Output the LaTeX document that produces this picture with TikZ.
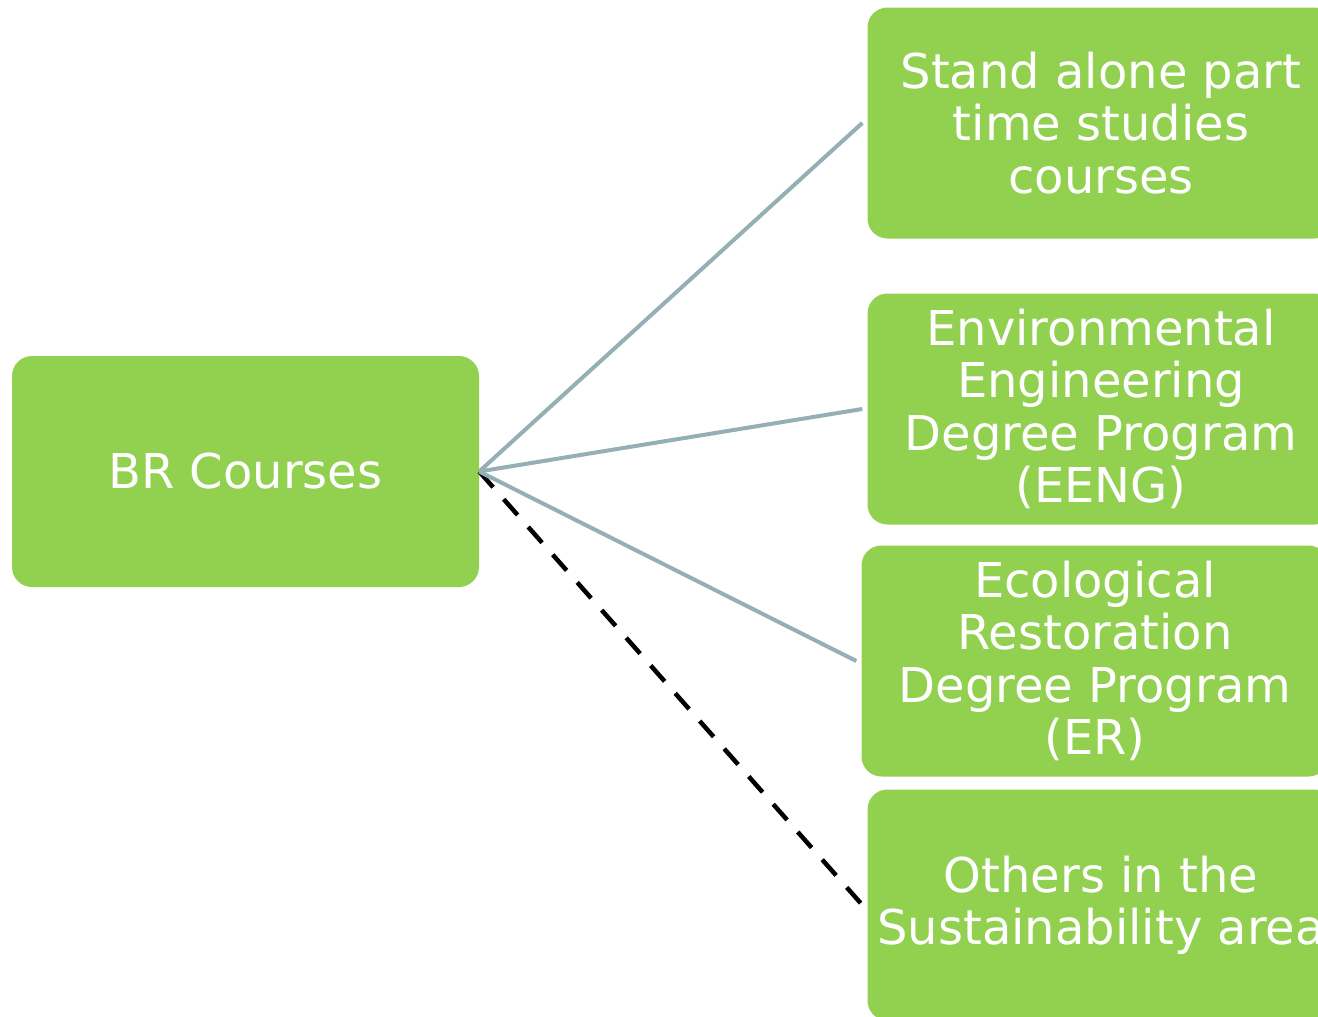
\documentclass[tikz,border=0pt]{standalone}
\usepackage{fontspec}
\setmainfont{DejaVu Sans}
\definecolor{leaf}{RGB}{146,208,80}
\definecolor{stem}{RGB}{148,176,181}
\tikzset{
  box/.style={fill=leaf, rounded corners=20pt, minimum width=467pt, minimum height=231pt,
    inner sep=0pt, align=center, text=white, font=\fontsize{48}{52.5}\selectfont},
  link/.style={stem, line width=4pt},
  other/.style={black, line width=4.5pt, dash pattern=on 21pt off 16pt}
}

\begin{document}
\begin{tikzpicture}[x=1pt,y=-1pt]
  \clip (0,0) rectangle (1318,1017);
  \node[box] (br) at (245.5,471.5) {BR Courses};
  \node[box] (part) at (1101,123) {Stand alone part\\time studies\\courses};
  \node[box] (eeng) at (1101,409) {Environmental\\Engineering\\Degree Program\\(EENG)};
  \node[box] (er) at (1095,661) {Ecological\\Restoration\\Degree Program\\(ER)};
  \node[box] (sust) at (1101,905) {Others in the\\Sustainability area};
  % the dashed one goes under the others
  \draw[other] (br.east) -- ([xshift=-5pt]sust.west);
  \draw[link] (br.east) -- ([xshift=-5pt]part.west);
  \draw[link] (br.east) -- ([xshift=-5pt]eeng.west);
  \draw[link] (br.east) -- ([xshift=-5pt]er.west);
\end{tikzpicture}
\end{document}
